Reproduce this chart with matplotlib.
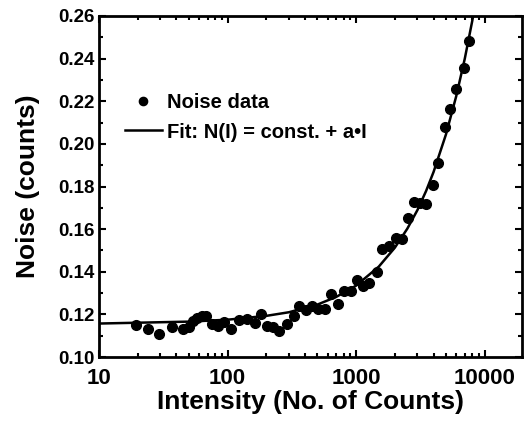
import numpy as np
import matplotlib
matplotlib.use("Agg")
from matplotlib import pyplot as plt
from matplotlib.ticker import MultipleLocator, FixedLocator, FixedFormatter, NullFormatter

# measured noise points (intensity, noise)
intensity = [19.3, 24.2, 29.3, 36.7, 44.7, 50.4, 54.1, 57.4, 62.8, 67.9,
             75.2, 84.6, 93.6, 107, 122, 141, 163, 181, 201, 226,
             252, 288, 330, 361, 406, 450, 507, 571, 632, 725,
             802, 904, 1024, 1133, 1262, 1440, 1575, 1805, 2056, 2291,
             2536, 2806, 3126, 3522, 3966, 4335, 4890, 5409, 5954, 6867,
             7554]
noise = [0.1152, 0.1133, 0.1108, 0.1142, 0.1131, 0.1139, 0.1167, 0.1183, 0.1191, 0.1191,
         0.1156, 0.1147, 0.1163, 0.1131, 0.1175, 0.1178, 0.1159, 0.1202, 0.1144, 0.1141,
         0.1120, 0.1156, 0.1191, 0.1241, 0.1222, 0.1238, 0.1225, 0.1225, 0.1297, 0.1250,
         0.1308, 0.1308, 0.1359, 0.1334, 0.1347, 0.1397, 0.1506, 0.1519, 0.1558, 0.1555,
         0.1652, 0.1725, 0.1722, 0.1717, 0.1808, 0.1908, 0.2081, 0.2163, 0.2256, 0.2358,
         0.2483]

# fit curve
fit_I = [10, 50, 100, 200, 300, 500, 700, 1000, 1500, 2000, 2500, 3000,
         3500, 4000, 5000, 6000, 7000, 8000, 8500]
fit_N = [0.1157, 0.1166, 0.1175, 0.1193, 0.1210, 0.1246, 0.1282, 0.1335, 0.1424,
         0.1513, 0.1602, 0.1690, 0.1779, 0.1868, 0.2045, 0.2223, 0.2400, 0.2577, 0.2666]

x_ticks = [10, 100, 1000, 10000]
x_labels = ['10', '100', '1000', '10000']
y_ticks = [0.10, 0.12, 0.14, 0.16, 0.18, 0.20, 0.22, 0.24, 0.26]
y_labels = ['0.10', '0.12', '0.14', '0.16', '0.18', '0.20', '0.22', '0.24', '0.26']

plt.rcParams['font.family'] = ['Liberation Sans', 'DejaVu Sans']
plt.rcParams['font.weight'] = 'bold'

fig = plt.figure(figsize=(5.24, 4.24), dpi=100)
ax = fig.add_axes([99/524, 1 - 357/424, 423/524, 341/424])

ax.plot(intensity, noise, 'o', color='black', markersize=7, label='Noise data')
ax.plot(fit_I, fit_N, '-', color='black', linewidth=1.8, label='Fit: N(I) = const. + a\u2022I')

ax.set_xscale('log')
ax.set_xlim(10, 19500)
ax.set_ylim(0.10, 0.26)

ax.xaxis.set_major_locator(FixedLocator(x_ticks))
ax.xaxis.set_major_formatter(FixedFormatter(x_labels))
minors = [m * d for d in [10, 100, 1000, 10000] for m in range(2, 10)]
ax.xaxis.set_minor_locator(FixedLocator(minors))
ax.xaxis.set_minor_formatter(NullFormatter())
ax.yaxis.set_major_locator(FixedLocator(y_ticks))
ax.yaxis.set_major_formatter(FixedFormatter(y_labels))
ax.yaxis.set_minor_locator(MultipleLocator(0.01))

ax.tick_params(which='both', direction='in', top=True, right=True, width=1.5)
ax.tick_params(which='major', length=5)
ax.tick_params(which='minor', length=3)
ax.tick_params(axis='y', which='major', pad=3, labelsize=13.5)
for s in ax.spines.values():
    s.set_linewidth(2)

ax.set_xlabel('Intensity (No. of Counts)', fontsize=19, fontweight='bold', labelpad=1)
ax.set_ylabel('Noise (counts)', fontsize=19, fontweight='bold', labelpad=13)

leg = ax.legend(loc='upper left', bbox_to_anchor=(0.018, 0.826), frameon=False,
                fontsize=14.5, handlelength=1.85, handletextpad=0.25, labelspacing=0.5,
                markerscale=0.85)

ax.tick_params(axis='x', which='major', pad=8, labelsize=16)

fig.savefig('out.png', dpi=100)
